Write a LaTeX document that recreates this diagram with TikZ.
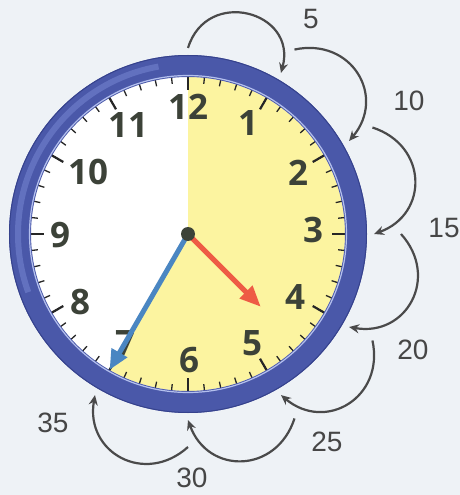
\documentclass[tikz,border=0pt]{standalone}
\usepackage{fontspec}
\setmainfont{Liberation Sans}
\newfontfamily\numfont{Open Sans}
\usetikzlibrary{arrows.meta}
\definecolor{bg}{HTML}{EEF2F6}
\definecolor{ringblue}{HTML}{4A58A9}
\definecolor{ringdark}{HTML}{36428C}
\definecolor{ringlight}{HTML}{B4C0EE}
\definecolor{ringhigh}{HTML}{7383CF}
\definecolor{faceyellow}{HTML}{FCF4A0}
\definecolor{numcol}{HTML}{3C4238}
\definecolor{minblue}{HTML}{4A86C2}
\definecolor{hourred}{HTML}{EE5B45}
\definecolor{arcgray}{HTML}{4A4A4A}
\definecolor{labgray}{HTML}{464646}
\begin{document}
\begin{tikzpicture}[x=1pt,y=1pt,
  hournum/.style={font=\numfont\bfseries\fontsize{35}{35}\selectfont, text=numcol, inner sep=0pt},
  countlab/.style={font=\fontsize{28}{28}\selectfont, text=labgray, inner sep=0pt},
  minortick/.style={line width=1.3pt, draw=black!85},
  majortick/.style={line width=2.2pt, draw=black!85},
  jump/.style={line width=2.2pt, draw=arcgray, -{Stealth[length=10pt,width=9pt]}},
  minhand/.style={line width=5pt, draw=minblue, -{Triangle[length=20pt,width=17pt]}},
  hourhand/.style={line width=5pt, draw=hourred, -{Triangle[length=21pt,width=17pt]}},
  pivotdot/.style={circle, fill=numcol, minimum size=14pt, inner sep=0pt}
]
\useasboundingbox (-188,234) rectangle (272,-261);
\fill[bg] (-188,234) rectangle (272,-261);
% face
\fill[white] (0,0) circle (157pt);
\fill[faceyellow] (0,0) -- (90:157pt) arc[start angle=90, end angle=-120, radius=157pt] -- cycle;
% ticks
\foreach \m in {0,...,59} \draw[minortick] ({90-6*\m}:151pt) -- ({90-6*\m}:158pt);
\foreach \h in {0,...,11} \draw[majortick] ({90-30*\h}:144pt) -- ({90-30*\h}:158pt);
% ring
\fill[ringblue, even odd rule] (0,0) circle (179pt) (0,0) circle (157pt);
\draw[ringhigh, line width=6pt, opacity=0.6] (100:170pt) arc[start angle=100, end angle=200, radius=170pt];
\draw[ringlight, line width=1.2pt] (0,0) circle (158.5pt);
\draw[ringdark, line width=1pt] (0,0) circle (178.5pt);
% numbers
\foreach \h/\p in {12/{(0,127)},1/{(60,111)},2/{(110,61)},3/{(125,4)},4/{(107,-63)},5/{(64,-109)},6/{(1,-126)},7/{(-63,-109)},8/{(-108,-68)},9/{(-128,-1)},10/{(-100,62)},11/{(-60,109)}}
  \node[hournum] (n\h) at \p {\h};
% hands
\coordinate (ctr) at (0,0);
\coordinate (mtip) at (-120:157pt);
\coordinate (htip) at (-45:103pt);
\draw[minhand] (ctr) -- (mtip);
\draw[hourhand] (ctr) -- (htip);
\node[pivotdot] (pivot) at (ctr) {};
% jumps
\coordinate (s1) at (90:186pt);
\coordinate (e1) at (60:186pt);
\draw[jump] (s1) to[out=73, in=75, looseness=1.7] (e1);
\foreach \a [count=\k from 2, evaluate=\a as \o using \a-48, evaluate=\a as \i using \a-10, evaluate=\a as \e using \a-30] in {60,30,0,-30,-60,-90} {
  \coordinate (s\k) at (\a:213pt);
  \coordinate (e\k) at (\e:186pt);
  \draw[jump] (s\k) to[out=\o, in=\i, looseness=1.4] (e\k);
}
% labels
\node[countlab] (l5) at (123,214.5) {5};
\node[countlab] (l10) at (221,133) {10};
\node[countlab] (l15) at (256,6) {15};
\node[countlab] (l20) at (225,-116) {20};
\node[countlab] (l25) at (139,-208) {25};
\node[countlab] (l30) at (4,-244) {30};
\node[countlab] (l35) at (-135,-189) {35};
\end{tikzpicture}
\end{document}
